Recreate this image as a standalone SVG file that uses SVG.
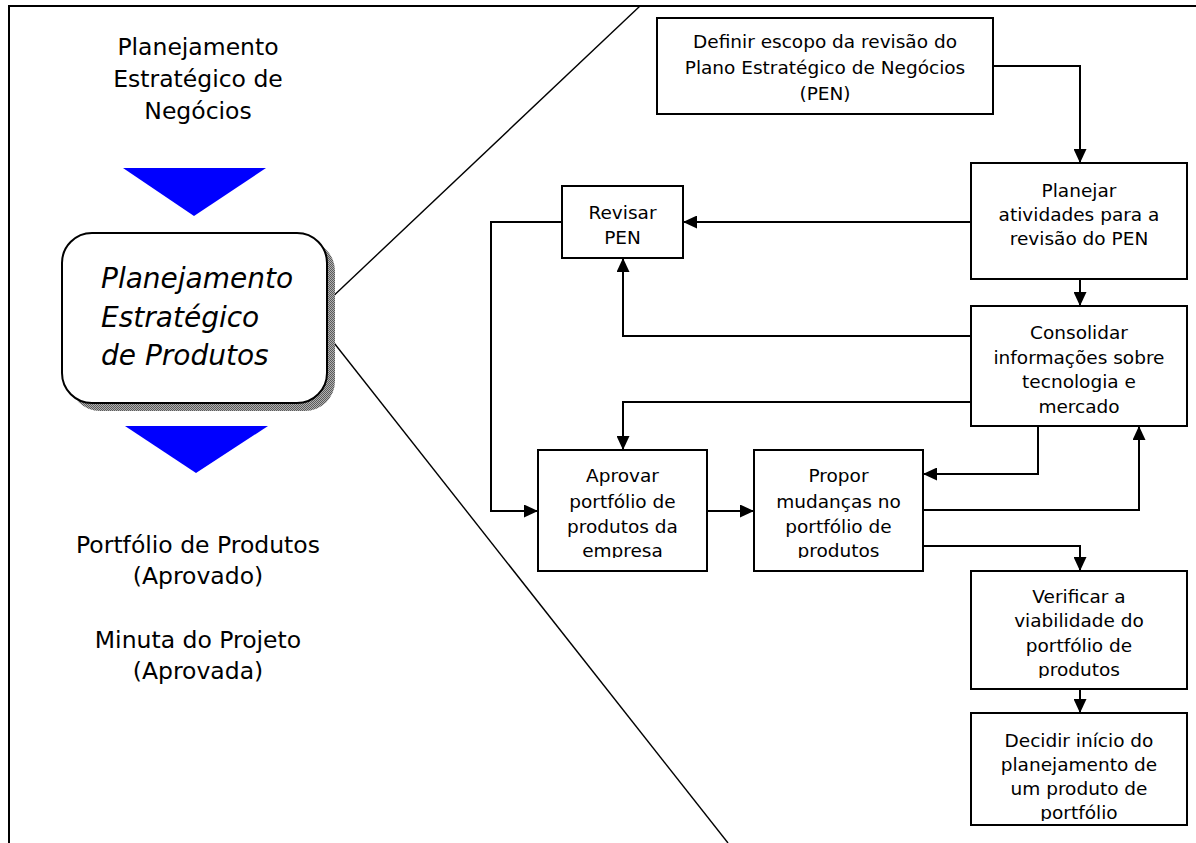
<svg xmlns="http://www.w3.org/2000/svg" width="1196" height="843" viewBox="0 0 1196 843">
  <style>
    .frame { fill: none; stroke: #000; stroke-width: 2; }
    .diag { fill: none; stroke: #000; stroke-width: 1.4; }
    .box { fill: #fff; stroke: #000; stroke-width: 2; }
    .conn { fill: none; stroke: #000; stroke-width: 2; marker-end: url(#arrow); }
    .lbl { font-family: "DejaVu Sans", Verdana, sans-serif; font-size: 18.5px; fill: #000; text-anchor: middle; }
    .big { font-family: "DejaVu Sans", Verdana, sans-serif; font-size: 23.5px; fill: #000; text-anchor: middle; }
    .ital { font-family: "DejaVu Sans", Verdana, sans-serif; font-style: italic; font-size: 28px; fill: #000; }
    .tri { fill: #0000ff; }
  </style>
  <defs>
    <marker id="arrow" viewBox="0 0 14 13" refX="14" refY="6.5" markerWidth="14" markerHeight="13" markerUnits="userSpaceOnUse" orient="auto">
      <path d="M0,0 L14,6.5 L0,13 z" fill="#000"/>
    </marker>
    <pattern id="dither" width="2" height="2" patternUnits="userSpaceOnUse">
      <rect width="2" height="2" fill="#b0b0b0"/>
      <rect width="1" height="1" fill="#5a5a5a"/>
      <rect x="1" y="1" width="1" height="1" fill="#5a5a5a"/>
    </pattern>
    <!-- text frames: overflowing last lines are cut at the frame edge -->
    <clipPath id="clipAprovar"><rect x="538" y="450" width="169" height="108"/></clipPath>
    <clipPath id="clipPropor"><rect x="754" y="450" width="169" height="108"/></clipPath>
    <clipPath id="clipVerificar"><rect x="971" y="571" width="216" height="107"/></clipPath>
    <clipPath id="clipDecidir"><rect x="971" y="713" width="216" height="108"/></clipPath>
  </defs>

  <!-- page frame and zoom-out lines -->
  <g id="frame">
    <polyline class="frame" points="9,843 9,6 1196,6"/>
    <line class="diag" x1="327" y1="302" x2="640" y2="6"/>
    <line class="diag" x1="327" y1="334" x2="728" y2="843"/>
  </g>

  <!-- left column: context of the phase -->
  <g id="input-pen">
    <text class="big" x="198" y="55">Planejamento</text>
    <text class="big" x="198" y="87">Estratégico de</text>
    <text class="big" x="198" y="119">Negócios</text>
  </g>
  <g id="flow-in">
    <polygon class="tri" points="123,168 266,168 194,216"/>
  </g>
  <g id="phase-pep">
    <rect x="70" y="241" width="265" height="170" rx="30" fill="url(#dither)"/>
    <rect class="box" x="62" y="233" width="265" height="170" rx="30"/>
    <text class="ital" x="101" y="288">Planejamento</text>
    <text class="ital" x="101" y="327">Estratégico</text>
    <text class="ital" x="101" y="365">de Produtos</text>
  </g>
  <g id="flow-out">
    <polygon class="tri" points="125,426 268,426 196,473"/>
  </g>
  <g id="outputs">
    <text class="big" x="198" y="553">Portfólio de Produtos</text>
    <text class="big" x="198" y="584">(Aprovado)</text>
    <text class="big" x="198" y="648">Minuta do Projeto</text>
    <text class="big" x="198" y="679">(Aprovada)</text>
  </g>

  <!-- connectors between activities -->
  <g id="connectors">
    <path class="conn" d="M993,66 H1080 V163"/>
    <path class="conn" d="M971,222 H683"/>
    <path class="conn" d="M1080,279 V306"/>
    <path class="conn" d="M971,336 H623 V258"/>
    <path class="conn" d="M971,402 H623 V450"/>
    <path class="conn" d="M1038,426 V474 H923"/>
    <path class="conn" d="M923,510 H1139 V426"/>
    <path class="conn" d="M923,546 H1080 V571"/>
    <path class="conn" d="M1080,689 V713"/>
    <path class="conn" d="M562,222 H491 V511 H538"/>
    <path class="conn" d="M707,511 H754"/>
  </g>

  <!-- activities -->
  <g id="definir">
    <rect class="box" x="657" y="18" width="336" height="96"/>
    <text class="lbl" x="825" y="48">Definir escopo da revisão do</text>
    <text class="lbl" x="825" y="74">Plano Estratégico de Negócios</text>
    <text class="lbl" x="825" y="100">(PEN)</text>
  </g>
  <g id="planejar">
    <rect class="box" x="971" y="163" width="216" height="116"/>
    <text class="lbl" x="1079" y="197">Planejar</text>
    <text class="lbl" x="1079" y="221">atividades para a</text>
    <text class="lbl" x="1079" y="245">revisão do PEN</text>
  </g>
  <g id="revisar">
    <rect class="box" x="562" y="186" width="121" height="72"/>
    <text class="lbl" x="622.5" y="219">Revisar</text>
    <text class="lbl" x="622.5" y="244">PEN</text>
  </g>
  <g id="consolidar">
    <rect class="box" x="971" y="306" width="216" height="120"/>
    <text class="lbl" x="1079" y="339">Consolidar</text>
    <text class="lbl" x="1079" y="364">informações sobre</text>
    <text class="lbl" x="1079" y="388">tecnologia e</text>
    <text class="lbl" x="1079" y="413">mercado</text>
  </g>
  <g id="aprovar">
    <rect class="box" x="538" y="450" width="169" height="121"/>
    <g clip-path="url(#clipAprovar)">
      <text class="lbl" x="622.5" y="482">Aprovar</text>
      <text class="lbl" x="622.5" y="508">portfólio de</text>
      <text class="lbl" x="622.5" y="533">produtos da</text>
      <text class="lbl" x="622.5" y="557">empresa</text>
    </g>
  </g>
  <g id="propor">
    <rect class="box" x="754" y="450" width="169" height="121"/>
    <g clip-path="url(#clipPropor)">
      <text class="lbl" x="838.5" y="482">Propor</text>
      <text class="lbl" x="838.5" y="508">mudanças no</text>
      <text class="lbl" x="838.5" y="533">portfólio de</text>
      <text class="lbl" x="838.5" y="557">produtos</text>
    </g>
  </g>
  <g id="verificar">
    <rect class="box" x="971" y="571" width="216" height="118"/>
    <g clip-path="url(#clipVerificar)">
      <text class="lbl" x="1079" y="603">Verificar a</text>
      <text class="lbl" x="1079" y="627">viabilidade do</text>
      <text class="lbl" x="1079" y="652">portfólio de</text>
      <text class="lbl" x="1079" y="676">produtos</text>
    </g>
  </g>
  <g id="decidir">
    <rect class="box" x="971" y="713" width="216" height="112"/>
    <g clip-path="url(#clipDecidir)">
      <text class="lbl" x="1079" y="747">Decidir início do</text>
      <text class="lbl" x="1079" y="771">planejamento de</text>
      <text class="lbl" x="1079" y="795">um produto de</text>
      <text class="lbl" x="1079" y="819">portfólio</text>
    </g>
  </g>
</svg>
